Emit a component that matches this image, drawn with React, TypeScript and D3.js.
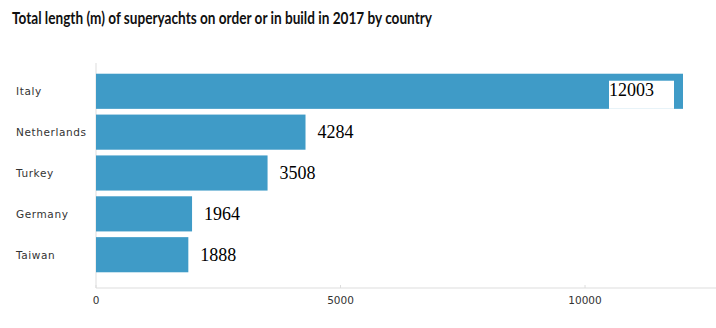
import React from "react";
import * as d3 from "d3";

const countries = ["Italy", "Netherlands", "Turkey", "Germany", "Taiwan"];
const lengths = [12003, 4284, 3508, 1964, 1888];
const xTicks = [0, 5000, 10000];

export default function App() {
  const W = 716, H = 328;
  const x = d3.scaleLinear().domain([0, 12003]).range([96, 683]);
  const y = d3.scaleBand<string>().domain(countries).range([68, 278]).padding(0.14);
  const bw = y.bandwidth();
  return (
    <svg width={W} height={H} style={{ position: "absolute", left: 0, top: 0, background: "#fff" }}>
      <text x={12} y={24} fontFamily="Lato" fontWeight={700} fontSize={17.5} textLength={420} lengthAdjust="spacingAndGlyphs" fill="#111">
        Total length (m) of superyachts on order or in build in 2017 by country
      </text>
      <line x1={96} x2={96} y1={63} y2={288} stroke="#ddd" />
      <line x1={96} x2={716} y1={288} y2={288} stroke="#ddd" />
      {xTicks.map((t) => (
        <g key={t}>
          <line x1={x(t)} x2={x(t)} y1={285} y2={288} stroke="#ddd" />
          <text x={x(t)} y={304} textAnchor="middle" fontFamily="DejaVu Sans" fontSize={10.5} fill="#333">
            {t}
          </text>
        </g>
      ))}
      {countries.map((c, i) => {
        const v = lengths[i];
        const y0 = y(c)!;
        const inside = v > 10000;
        const lx = inside ? x(v) - 74 : x(v) + 12;
        return (
          <g key={c}>
            <text x={16} y={y0 + bw / 2 + 4} fontFamily="DejaVu Sans" fontSize={10.5} letterSpacing={0.6} fill="#333">
              {c}
            </text>
            <rect x={x(0)} y={y0} width={x(v) - x(0)} height={bw} fill="#3f9bc7" />
            {inside && <rect x={lx} y={y0 + 7} width={65} height={bw - 7} fill="#fff" />}
            <text x={lx} y={inside ? y0 + 22 : y0 + bw / 2 + 6} fontFamily="Liberation Serif" fontSize={18} fill="#000">
              {v}
            </text>
          </g>
        );
      })}
    </svg>
  );
}
